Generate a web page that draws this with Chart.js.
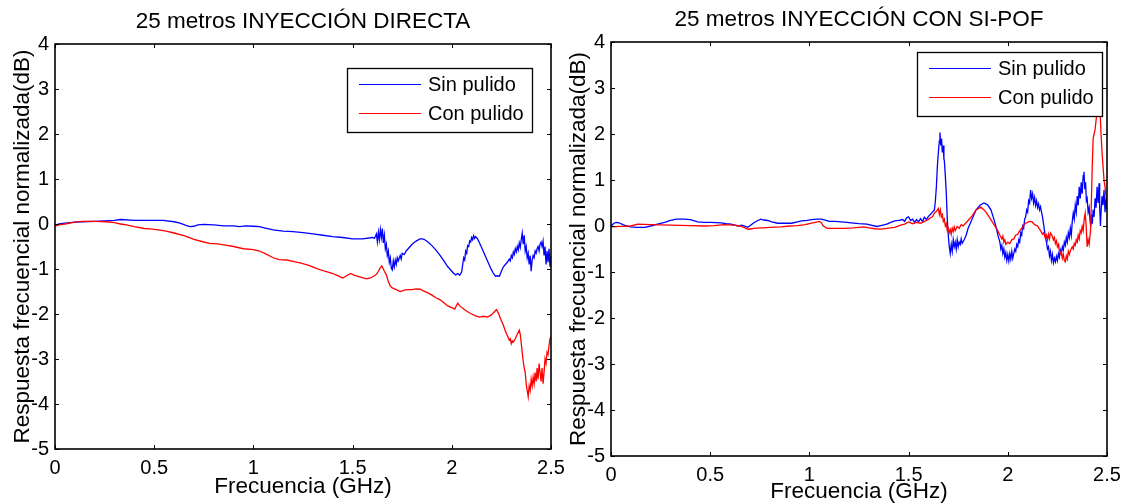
<!DOCTYPE html>
<html>
<head>
<meta charset="utf-8">
<script src="https://cdn.jsdelivr.net/npm/chart.js@4.4.1/dist/chart.umd.min.js"></script>
<style>
  html, body { margin: 0; padding: 0; background: #fff; }
  #wrap { position: relative; width: 1130px; height: 504px; overflow: hidden; background: #fff; }
  .panel { position: absolute; top: 0; width: 565px; height: 504px; }
</style>
</head>
<body>
<div id="wrap">
  <div class="panel" style="left:0"><canvas id="directa" width="565" height="504"></canvas></div>
  <div class="panel" style="left:565px"><canvas id="sipof" width="565" height="504"></canvas></div>
</div>
<script>
// Axis ticks and labels
const xTicks = [0, 0.5, 1, 1.5, 2, 2.5];
const xTickLabels = ['0', '0.5', '1', '1.5', '2', '2.5'];
const yTicks = [-5, -4, -3, -2, -1, 0, 1, 2, 3, 4];
const yTickLabels = ['-5', '-4', '-3', '-2', '-1', '0', '1', '2', '3', '4'];

const seriesNames = ['Sin pulido', 'Con pulido'];
const panelTitles = ['25 metros INYECCIÓN DIRECTA', '25 metros INYECCIÓN CON SI-POF'];
const xTitle = 'Frecuencia (GHz)';
const yTitle = 'Respuesta frecuencial normalizada(dB)';

// Direct injection, unpolished fibre (GHz / dB)
const directaSinF = [
  0, 0.02, 0.05, 0.1, 0.14, 0.2, 0.25, 0.3, 0.33, 0.4,
  0.5, 0.545, 0.6, 0.63, 0.66, 0.68, 0.7, 0.72, 0.75, 0.8,
  0.85, 0.9, 0.93, 0.96, 1.0, 1.03, 1.06, 1.1, 1.15, 1.2,
  1.25, 1.3, 1.35, 1.4, 1.45, 1.5, 1.55, 1.6, 1.61, 1.62,
  1.625, 1.63, 1.635, 1.64, 1.645, 1.65, 1.655, 1.66, 1.665, 1.67,
  1.675, 1.68, 1.685, 1.69, 1.695, 1.7, 1.705, 1.71, 1.715, 1.72,
  1.725, 1.73, 1.74, 1.745, 1.75, 1.76, 1.77, 1.78, 1.79, 1.8,
  1.82, 1.84, 1.85, 1.86, 1.88, 1.9, 1.92, 1.94, 1.96, 1.98,
  1.99, 2.0, 2.01, 2.02, 2.03, 2.04, 2.05, 2.055, 2.06, 2.065,
  2.07, 2.075, 2.08, 2.085, 2.09, 2.095, 2.1, 2.105, 2.11, 2.115,
  2.12, 2.13, 2.14, 2.15, 2.16, 2.17, 2.18, 2.19, 2.2, 2.21,
  2.22, 2.23, 2.24, 2.25, 2.26, 2.27, 2.28, 2.29, 2.295, 2.3,
  2.305, 2.31, 2.315, 2.32, 2.325, 2.33, 2.335, 2.34, 2.345, 2.35,
  2.355, 2.36, 2.365, 2.37, 2.375, 2.38, 2.385, 2.39, 2.395, 2.4,
  2.405, 2.41, 2.415, 2.42, 2.425, 2.43, 2.435, 2.44, 2.445, 2.45,
  2.455, 2.46, 2.465, 2.47, 2.475, 2.48, 2.485, 2.49, 2.495, 2.5
];
const directaSinV = [
  -0.04, 0.0, 0.02, 0.04, 0.05, 0.06, 0.07, 0.08, 0.1, 0.08,
  0.08, 0.08, 0.05, 0.02, -0.03, -0.06, -0.05, -0.02, -0.01, -0.02,
  -0.04, -0.04, -0.06, -0.04, -0.05, -0.06, -0.09, -0.13, -0.16, -0.17,
  -0.19, -0.22, -0.25, -0.28, -0.3, -0.33, -0.33, -0.3, -0.32, -0.22,
  -0.4, -0.18, -0.35, -0.12, -0.3, -0.1, -0.42, -0.25, -0.55, -0.45,
  -0.7, -0.6, -0.85, -0.75, -0.98, -1.02, -0.82, -0.95, -0.8, -0.9,
  -0.75, -0.82, -0.7, -0.78, -0.65, -0.68, -0.6, -0.55, -0.5, -0.45,
  -0.38, -0.33, -0.33, -0.34, -0.4, -0.48, -0.58, -0.69, -0.82, -0.95,
  -1.0, -1.05, -1.1, -1.13, -1.1, -1.14, -1.06, -0.9, -0.75, -0.8,
  -0.6, -0.65, -0.48, -0.5, -0.38, -0.4, -0.3, -0.35, -0.26, -0.32,
  -0.28, -0.33, -0.42, -0.52, -0.62, -0.72, -0.82, -0.92, -1.02, -1.1,
  -1.16, -1.15, -1.16, -1.05, -0.95, -0.9, -0.85, -0.78, -0.82, -0.7,
  -0.75, -0.62, -0.68, -0.55, -0.62, -0.5, -0.58, -0.42, -0.52, -0.35,
  -0.2, -0.45, -0.25, -0.6, -0.5, -0.75, -0.65, -0.9, -0.7, -1.05,
  -0.8, -0.7, -0.75, -0.6, -0.65, -0.55, -0.5, -0.6, -0.45, -0.4,
  -0.5, -0.38, -0.7, -0.5, -0.9, -0.6, -0.85, -0.55, -0.95, -0.7
];

// Direct injection, polished fibre
const directaConF = [
  0, 0.02, 0.05, 0.1, 0.14, 0.2, 0.26, 0.3, 0.33, 0.36,
  0.4, 0.45, 0.48, 0.52, 0.56, 0.6, 0.65, 0.7, 0.75, 0.78,
  0.82, 0.86, 0.9, 0.95, 1.0, 1.03, 1.06, 1.1, 1.13, 1.17,
  1.2, 1.24, 1.28, 1.32, 1.36, 1.4, 1.43, 1.45, 1.47, 1.49,
  1.51, 1.54, 1.57, 1.59, 1.61, 1.62, 1.63, 1.64, 1.647, 1.655,
  1.66, 1.67, 1.68, 1.69, 1.7, 1.72, 1.74, 1.76, 1.78, 1.8,
  1.82, 1.84, 1.86, 1.88, 1.9, 1.92, 1.94, 1.96, 1.98, 2.0,
  2.015, 2.025, 2.03, 2.04, 2.06, 2.08, 2.1, 2.12, 2.14, 2.16,
  2.18, 2.2, 2.215, 2.225, 2.235, 2.245, 2.26, 2.27, 2.28, 2.29,
  2.295, 2.3, 2.305, 2.31, 2.32, 2.33, 2.34, 2.345, 2.35, 2.355,
  2.36, 2.365, 2.37, 2.375, 2.38, 2.385, 2.39, 2.395, 2.4, 2.405,
  2.41, 2.415, 2.42, 2.425, 2.43, 2.435, 2.44, 2.445, 2.45, 2.455,
  2.46, 2.465, 2.47, 2.475, 2.48, 2.485, 2.49, 2.495, 2.5
];
const directaConV = [
  -0.05, -0.02, 0.0, 0.04, 0.06, 0.06, 0.05, 0.03, 0.0, -0.02,
  -0.06, -0.1, -0.11, -0.13, -0.16, -0.2, -0.26, -0.34, -0.4, -0.43,
  -0.44, -0.47, -0.5, -0.55, -0.57, -0.6, -0.66, -0.75, -0.79, -0.8,
  -0.83, -0.87, -0.92, -0.99, -1.05, -1.1, -1.16, -1.2, -1.15, -1.1,
  -1.14, -1.18, -1.22, -1.2, -1.15, -1.12, -1.05, -0.97, -0.93, -1.0,
  -1.05, -1.13, -1.28, -1.38, -1.42, -1.46, -1.5, -1.47, -1.46, -1.46,
  -1.44, -1.45, -1.49, -1.53, -1.58, -1.64, -1.68, -1.75, -1.82, -1.86,
  -1.89, -1.8, -1.76, -1.82, -1.89, -1.95, -2.0, -2.04, -2.07, -2.05,
  -2.07, -2.02, -1.95, -1.9, -1.98, -2.1, -2.25, -2.38, -2.48, -2.58,
  -2.55, -2.66, -2.6, -2.62, -2.55, -2.45, -2.36, -2.45, -2.65, -2.85,
  -3.05, -3.2, -3.3, -3.55, -3.7, -3.84, -3.6, -3.7, -3.45, -3.6,
  -3.4, -3.55, -3.3, -3.5, -3.2, -3.45, -3.1, -3.3, -3.5, -3.2,
  -3.55, -3.3, -3.0, -3.1, -2.85, -2.9, -2.7, -2.55, -2.5
];

// SI-POF injection, unpolished fibre
const sipofSinF = [
  0, 0.015, 0.026, 0.04, 0.06, 0.08, 0.1, 0.13, 0.17, 0.2,
  0.235, 0.27, 0.3, 0.33, 0.37, 0.4, 0.437, 0.47, 0.5, 0.555,
  0.58, 0.605, 0.64, 0.66, 0.69, 0.72, 0.74, 0.756, 0.77, 0.79,
  0.81, 0.84, 0.88, 0.91, 0.94, 0.96, 0.99, 1.01, 1.04, 1.06,
  1.08, 1.1, 1.13, 1.16, 1.19, 1.21, 1.25, 1.29, 1.31, 1.34,
  1.36, 1.39, 1.41, 1.43, 1.45, 1.47, 1.48, 1.49, 1.5, 1.51,
  1.52, 1.53, 1.54, 1.55, 1.56, 1.57, 1.58, 1.59, 1.6, 1.61,
  1.62, 1.63, 1.635, 1.64, 1.645, 1.65, 1.655, 1.658, 1.662, 1.666,
  1.67, 1.674, 1.678, 1.68, 1.685, 1.69, 1.695, 1.7, 1.705, 1.71,
  1.715, 1.72, 1.725, 1.73, 1.735, 1.74, 1.745, 1.75, 1.755, 1.76,
  1.765, 1.77, 1.78, 1.79, 1.8, 1.81, 1.82, 1.83, 1.84, 1.86,
  1.88, 1.89, 1.9, 1.915, 1.93, 1.94, 1.95, 1.96, 1.965, 1.97,
  1.975, 1.98, 1.985, 1.99, 1.995, 2.0, 2.005, 2.01, 2.015, 2.02,
  2.025, 2.03, 2.035, 2.04, 2.045, 2.05, 2.055, 2.06, 2.065, 2.07,
  2.075, 2.08, 2.085, 2.09, 2.095, 2.1, 2.105, 2.11, 2.115, 2.12,
  2.125, 2.13, 2.135, 2.14, 2.145, 2.15, 2.155, 2.16, 2.165, 2.17,
  2.175, 2.18, 2.185, 2.19, 2.195, 2.2, 2.205, 2.21, 2.215, 2.22,
  2.225, 2.23, 2.235, 2.24, 2.245, 2.25, 2.255, 2.26, 2.265, 2.27,
  2.275, 2.28, 2.285, 2.29, 2.295, 2.3, 2.305, 2.31, 2.315, 2.32,
  2.325, 2.33, 2.335, 2.34, 2.345, 2.35, 2.355, 2.36, 2.365, 2.37,
  2.375, 2.38, 2.384, 2.388, 2.392, 2.396, 2.4, 2.405, 2.41, 2.415,
  2.418, 2.422, 2.426, 2.43, 2.435, 2.44, 2.445, 2.45, 2.455, 2.46,
  2.463, 2.467, 2.47, 2.475, 2.48, 2.485, 2.49, 2.495, 2.5
];
const sipofSinV = [
  0.0, 0.06, 0.08, 0.07, 0.03, 0.0, -0.02, -0.03, -0.03, 0.0,
  0.04, 0.08, 0.12, 0.15, 0.15, 0.14, 0.09, 0.08, 0.08, 0.07,
  0.05, 0.04, 0.0, 0.02, -0.03, 0.07, 0.12, 0.15, 0.13, 0.12,
  0.09, 0.06, 0.06, 0.06, 0.09, 0.11, 0.12, 0.14, 0.15, 0.15,
  0.13, 0.1, 0.1, 0.09, 0.08, 0.07, 0.05, 0.04, 0.02, -0.01,
  0.01, 0.04, 0.08, 0.11, 0.12, 0.14, 0.1, 0.18, 0.2, 0.12,
  0.15, 0.08, 0.14, 0.09, 0.16, 0.1, 0.19, 0.14, 0.21, 0.25,
  0.3, 0.35, 0.55, 0.85, 1.3, 1.6, 1.85, 2.03, 1.75, 1.9,
  1.6, 1.75, 1.45, 1.43, 1.1, 0.71, 0.15, -0.2, -0.45, -0.6,
  -0.4, -0.55, -0.3, -0.45, -0.35, -0.5, -0.3, -0.45, -0.35, -0.4,
  -0.28, -0.38, -0.3, -0.2, -0.05, 0.05, 0.15, 0.25, 0.35, 0.45,
  0.5, 0.48, 0.45, 0.35, 0.15, -0.01, -0.2, -0.35, -0.5, -0.42,
  -0.6, -0.5, -0.68, -0.58, -0.75, -0.62, -0.76, -0.6, -0.72, -0.55,
  -0.7, -0.6, -0.5, -0.55, -0.4, -0.45, -0.3, -0.35, -0.15, -0.2,
  0.0, -0.05, 0.15, 0.2, 0.35, 0.3, 0.55, 0.5, 0.78, 0.6,
  0.7, 0.5, 0.62, 0.45, 0.55, 0.4, 0.48, 0.35, 0.42, 0.3,
  0.2, 0.05, -0.1, -0.25, -0.35, -0.5, -0.45, -0.65, -0.55, -0.75,
  -0.62, -0.8, -0.7, -0.78, -0.66, -0.75, -0.6, -0.68, -0.52, -0.6,
  -0.45, -0.52, -0.35, -0.42, -0.25, -0.35, -0.15, -0.25, -0.05, -0.2,
  0.1, 0.28, 0.15, 0.45, 0.3, 0.65, 0.45, 0.85, 0.6, 0.95,
  0.7, 1.1, 1.18, 0.8, 0.95, 0.55, 0.6, 0.3, 0.4, 0.1,
  -0.01, 0.25, 0.05, 0.35, 0.2, 0.6, 0.4, 0.85, 0.5, 0.93,
  0.4, 0.0, 0.3, 0.65, 0.45, 0.78, 0.3, 0.6, 0.35
];

// SI-POF injection, polished fibre
const sipofConF = [
  0, 0.05, 0.1, 0.135, 0.2, 0.3, 0.4, 0.47, 0.52, 0.57,
  0.62, 0.65, 0.67, 0.69, 0.71, 0.72, 0.75, 0.77, 0.8, 0.857,
  0.9, 0.94, 0.98, 1.01, 1.03, 1.05, 1.06, 1.07, 1.09, 1.12,
  1.175, 1.22, 1.275, 1.3, 1.33, 1.36, 1.39, 1.43, 1.46, 1.48,
  1.5, 1.52, 1.54, 1.56, 1.58, 1.6, 1.61, 1.62, 1.63, 1.64,
  1.65, 1.655, 1.66, 1.665, 1.67, 1.675, 1.68, 1.685, 1.69, 1.695,
  1.7, 1.705, 1.71, 1.715, 1.72, 1.725, 1.73, 1.735, 1.745, 1.755,
  1.765, 1.775, 1.787, 1.8, 1.82, 1.84, 1.864, 1.88, 1.89, 1.906,
  1.92, 1.935, 1.948, 1.96, 1.97, 1.975, 1.98, 1.985, 1.99, 2.0,
  2.01, 2.02, 2.03, 2.04, 2.05, 2.06, 2.07, 2.08, 2.09, 2.1,
  2.11, 2.123, 2.13, 2.14, 2.15, 2.157, 2.165, 2.175, 2.18, 2.19,
  2.195, 2.2, 2.205, 2.21, 2.215, 2.224, 2.23, 2.235, 2.24, 2.245,
  2.25, 2.255, 2.258, 2.265, 2.27, 2.275, 2.28, 2.285, 2.29, 2.295,
  2.3, 2.305, 2.31, 2.317, 2.325, 2.33, 2.335, 2.34, 2.345, 2.35,
  2.355, 2.36, 2.365, 2.37, 2.375, 2.38, 2.385, 2.39, 2.395, 2.4,
  2.405, 2.41, 2.417, 2.42, 2.425, 2.43, 2.435, 2.44, 2.445, 2.45,
  2.455, 2.46, 2.465, 2.47, 2.475, 2.48, 2.485, 2.49, 2.495, 2.5
];
const sipofConV = [
  -0.02, -0.01, 0.0, 0.04, 0.03, 0.02, 0.01, 0.0, 0.01, 0.03,
  0.02, 0.0, -0.03, -0.07, -0.06, -0.05, -0.04, -0.04, -0.03, -0.02,
  0.0, 0.01, 0.03, 0.06, 0.08, 0.1, 0.07, 0.0, -0.05, -0.05,
  -0.05, -0.04, -0.02, -0.04, -0.06, -0.07, -0.05, -0.03, 0.02, 0.04,
  0.09, 0.05, 0.08, 0.06, 0.1, 0.14, 0.18, 0.2, 0.28, 0.32,
  0.38, 0.25, 0.35, 0.2, 0.25, 0.1, 0.15, 0.0, 0.05, -0.1,
  -0.05, -0.15, -0.08, -0.18, -0.05, -0.12, -0.02, -0.1, -0.01, -0.05,
  0.03, 0.0, 0.06, 0.12, 0.22, 0.35, 0.41, 0.35, 0.3, 0.2,
  0.1, 0.0, -0.09, -0.2, -0.28, -0.22, -0.35, -0.3, -0.4, -0.35,
  -0.38, -0.3, -0.28, -0.2, -0.18, -0.1, -0.05, 0.02, 0.06, 0.08,
  0.1, 0.09, 0.05, 0.02, 0.0, -0.05, -0.1, -0.18, -0.15, -0.27,
  -0.2, -0.3, -0.18, -0.28, -0.15, -0.22, -0.3, -0.25, -0.38, -0.32,
  -0.45, -0.4, -0.5, -0.6, -0.55, -0.7, -0.62, -0.75, -0.78, -0.65,
  -0.72, -0.55, -0.62, -0.52, -0.45, -0.5, -0.38, -0.42, -0.3, -0.35,
  -0.2, -0.28, -0.1, -0.15, -0.01, -0.1, 0.15, 0.28, 0.0, -0.45,
  -0.3, -0.4, -0.09, 0.3, 1.2, 1.9, 2.0, 2.1, 2.3, 2.5,
  2.9, 3.2, 2.5, 2.0, 1.6, 1.3, 1.0, 0.85, 0.65, 0.5
];

const FONT = "'Liberation Sans', Arial, Helvetica, sans-serif";
Chart.defaults.font.family = FONT;
Chart.defaults.color = '#000';

function toPoints(f, v) {
  return f.map((x, i) => ({ x: x, y: v[i] }));
}

// Closed axes box with inward tick marks on all four sides, plus a boxed legend
const boxedAxes = {
  id: 'boxedAxes',
  afterDatasetsDraw(chart, args, opts) {
    const { ctx, chartArea: a, scales: { x, y } } = chart;
    const t = opts.tickLength;
    ctx.save();
    ctx.strokeStyle = '#000';
    ctx.lineWidth = 1;
    ctx.beginPath();
    x.ticks.forEach(tk => {
      const px = Math.round(x.getPixelForValue(tk.value)) + 0.5;
      ctx.moveTo(px, a.bottom); ctx.lineTo(px, a.bottom - t);
      ctx.moveTo(px, a.top); ctx.lineTo(px, a.top + t);
    });
    y.ticks.forEach(tk => {
      const py = Math.round(y.getPixelForValue(tk.value)) + 0.5;
      ctx.moveTo(a.left, py); ctx.lineTo(a.left + t, py);
      ctx.moveTo(a.right, py); ctx.lineTo(a.right - t, py);
    });
    ctx.stroke();
    ctx.lineWidth = 1.6;
    ctx.strokeRect(a.left, a.top, a.right - a.left, a.bottom - a.top);

    // legend
    const w = opts.legendWidth, h = opts.legendHeight;
    const lx = Math.round(a.right - opts.legendRight - w);
    const ly = Math.round(a.top + opts.legendTop);
    ctx.fillStyle = '#fff';
    ctx.fillRect(lx, ly, w, h);
    ctx.lineWidth = 1.3;
    ctx.strokeStyle = '#000';
    ctx.strokeRect(lx + 0.5, ly + 0.5, w, h);
    ctx.font = '20px ' + FONT;
    ctx.textAlign = 'left';
    ctx.textBaseline = 'middle';
    chart.data.datasets.forEach((ds, i) => {
      const yy = ly + 16.5 + i * 29;
      ctx.strokeStyle = ds.borderColor;
      ctx.lineWidth = 1.2;
      ctx.beginPath();
      ctx.moveTo(lx + 12, yy);
      ctx.lineTo(lx + 74, yy);
      ctx.stroke();
      ctx.fillStyle = '#000';
      ctx.fillText(ds.label, lx + 81, yy + 1);
    });
    ctx.restore();
  }
};

function makePanel(id, title, sinF, sinV, conF, conV, L) {
  return new Chart(document.getElementById(id), {
    type: 'line',
    data: {
      datasets: [
        { label: seriesNames[0], data: toPoints(sinF, sinV), borderColor: '#0000ff',
          borderWidth: 1.3, pointRadius: 0, tension: 0, fill: false, order: 1 },
        { label: seriesNames[1], data: toPoints(conF, conV), borderColor: '#ff0000',
          borderWidth: 1.3, pointRadius: 0, tension: 0, fill: false, order: 0 }
      ]
    },
    options: {
      responsive: false,
      animation: false,
      devicePixelRatio: 1,
      events: [],
      layout: { padding: { left: 0, right: L.right, top: 0, bottom: 0 } },
      plugins: {
        legend: { display: false },
        tooltip: { enabled: false },
        title: {
          display: true, text: title, fullSize: false, color: '#000',
          font: { size: 22.5, weight: 'normal', lineHeight: 1 },
          padding: { top: L.titleTop, bottom: L.titleBottom }
        },
        boxedAxes: {
          tickLength: 4, legendWidth: 185, legendHeight: 64,
          legendRight: L.legendRight, legendTop: L.legendTop
        }
      },
      scales: {
        x: {
          type: 'linear', min: 0, max: 2.5,
          afterBuildTicks: s => { s.ticks = xTicks.map(v => ({ value: v })); },
          afterFit: s => { s.height = L.xHeight; s.paddingLeft = 0; s.paddingRight = 0; },
          ticks: { autoSkip: false, maxRotation: 0, padding: L.xTickPad, font: { size: 20 },
                   callback: (v, i) => xTickLabels[i] },
          grid: { display: false, drawTicks: false, tickLength: 0 },
          border: { display: false },
          title: { display: true, text: xTitle, font: { size: 22.5, lineHeight: 1 },
                   padding: { top: 0, bottom: L.xTitlePad } }
        },
        y: {
          type: 'linear', min: -5, max: 4,
          afterBuildTicks: s => { s.ticks = yTicks.map(v => ({ value: v })); },
          afterFit: s => { s.width = L.yWidth; s.paddingTop = 0; s.paddingBottom = 0; },
          ticks: { autoSkip: false, padding: 6, font: { size: 20 },
                   callback: (v, i) => yTickLabels[i] },
          grid: { display: false, drawTicks: false, tickLength: 0 },
          border: { display: false },
          title: { display: true, text: yTitle, font: { size: 22.5, lineHeight: 1 },
                   padding: { top: L.yTitlePad, bottom: 0 } }
        }
      }
    },
    plugins: [boxedAxes]
  });
}

makePanel('directa', panelTitles[0], directaSinF, directaSinV, directaConF, directaConV, {
  right: 14, xHeight: 55, yWidth: 55, titleTop: 11, titleBottom: 10.5,
  xTickPad: 7, xTitlePad: 6, yTitlePad: 12, legendRight: 19, legendTop: 24
});
makePanel('sipof', panelTitles[1], sipofSinF, sipofSinV, sipofConF, sipofConV, {
  right: 23, xHeight: 48, yWidth: 46, titleTop: 9, titleBottom: 10.5,
  xTickPad: 7, xTitlePad: 1, yTitlePad: 3, legendRight: 5, legendTop: 10
});
</script>
</body>
</html>
